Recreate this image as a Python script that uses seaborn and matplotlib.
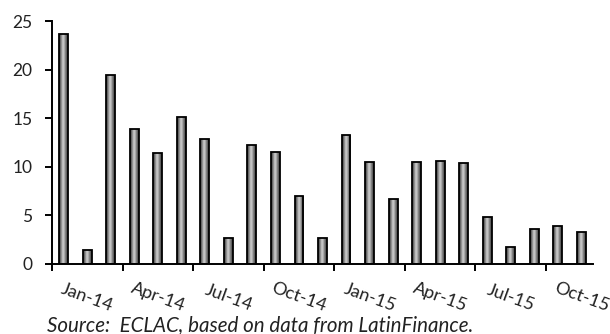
import numpy as np
import pandas as pd
import matplotlib
matplotlib.use("Agg")
import matplotlib.pyplot as plt
import seaborn as sns

# Monthly values, Jan-2014 to Nov-2015
months = ["Jan-14", "Feb-14", "Mar-14", "Apr-14", "May-14", "Jun-14", "Jul-14", "Aug-14",
          "Sep-14", "Oct-14", "Nov-14", "Dec-14", "Jan-15", "Feb-15", "Mar-15", "Apr-15",
          "May-15", "Jun-15", "Jul-15", "Aug-15", "Sep-15", "Oct-15", "Nov-15"]
values = [23.7, 1.4, 19.4, 13.9, 11.4, 15.1, 12.9, 2.7, 12.2, 11.5, 7.0, 2.7,
          13.3, 10.5, 6.7, 10.5, 10.6, 10.4, 4.8, 1.8, 3.6, 3.9, 3.3]
quarter_labels = ["Jan-14", "Apr-14", "Jul-14", "Oct-14", "Jan-15", "Apr-15", "Jul-15", "Oct-15"]
y_ticks = [0, 5, 10, 15, 20, 25]
source_note = "Source:  ECLAC, based on data from LatinFinance."

df = pd.DataFrame({"month": months, "value": values})

sns.set_theme(style="white")
plt.rcParams["font.family"] = ["Lato", "DejaVu Sans"]

fig = plt.figure(figsize=(6.10, 3.34), dpi=100)
ax = fig.add_axes([52 / 610, 1 - 264 / 334, 541 / 610, 243 / 334])

sns.barplot(data=df, x="month", y="value", order=months, color="#7a7a7a",
            width=0.38, edgecolor="black", linewidth=1.3, ax=ax, zorder=2)

# Cylinder-like grey shading inside each bar
profile = np.array([0.30, 0.42, 0.62, 0.80, 0.74, 0.55, 0.40, 0.30])
grad = np.tile(profile, (2, 1))
for patch in ax.patches:
    x0, y0 = patch.get_x(), patch.get_y()
    w, h = patch.get_width(), patch.get_height()
    im = ax.imshow(grad, cmap="gray", vmin=0, vmax=1, aspect="auto",
                   extent=(x0, x0 + w, y0, y0 + h), interpolation="bilinear", zorder=1.5)
    im.set_clip_path(patch)
    patch.set_facecolor("none")

n = len(months)
ax.set_xlim(-0.5, n - 0.5)
ax.set_ylim(0, 25)
ax.set_xlabel("")
ax.set_ylabel("")

# Spines
for side in ["top", "right"]:
    ax.spines[side].set_visible(False)
for side in ["left", "bottom"]:
    ax.spines[side].set_color("black")
    ax.spines[side].set_linewidth(1.4)

# Y axis ticks
ax.set_yticks(y_ticks)
ax.set_yticklabels([str(v) for v in y_ticks])
ax.tick_params(axis="y", which="major", direction="out", length=5, width=1.4,
               color="black", pad=9, labelsize=12.5, labelcolor="#222222", left=True)

# X axis: tick marks at quarter boundaries, labels centred within each quarter
bounds = np.arange(-0.5, n - 1, 3)
centers = np.arange(1, n, 3)
ax.set_xticks(bounds)
ax.set_xticklabels([""] * len(bounds))
ax.set_xticks(centers, minor=True)
ax.set_xticklabels(quarter_labels, minor=True)
ax.tick_params(axis="x", which="major", direction="out", length=5, width=1.4,
               color="black", bottom=True)
ax.tick_params(axis="x", which="minor", length=0, pad=24, labelsize=13,
               labelcolor="#222222", bottom=True)
for lab in ax.get_xticklabels(minor=True):
    lab.set_rotation(-20)
    lab.set_ha("center")
    lab.set_va("center")
    lab.set_rotation_mode("anchor")

fig.text(47 / 610, 1 - 331 / 334, source_note, fontsize=14.8, style="italic",
         color="#222222", ha="left", va="baseline")

fig.savefig("out.png", dpi=100)
